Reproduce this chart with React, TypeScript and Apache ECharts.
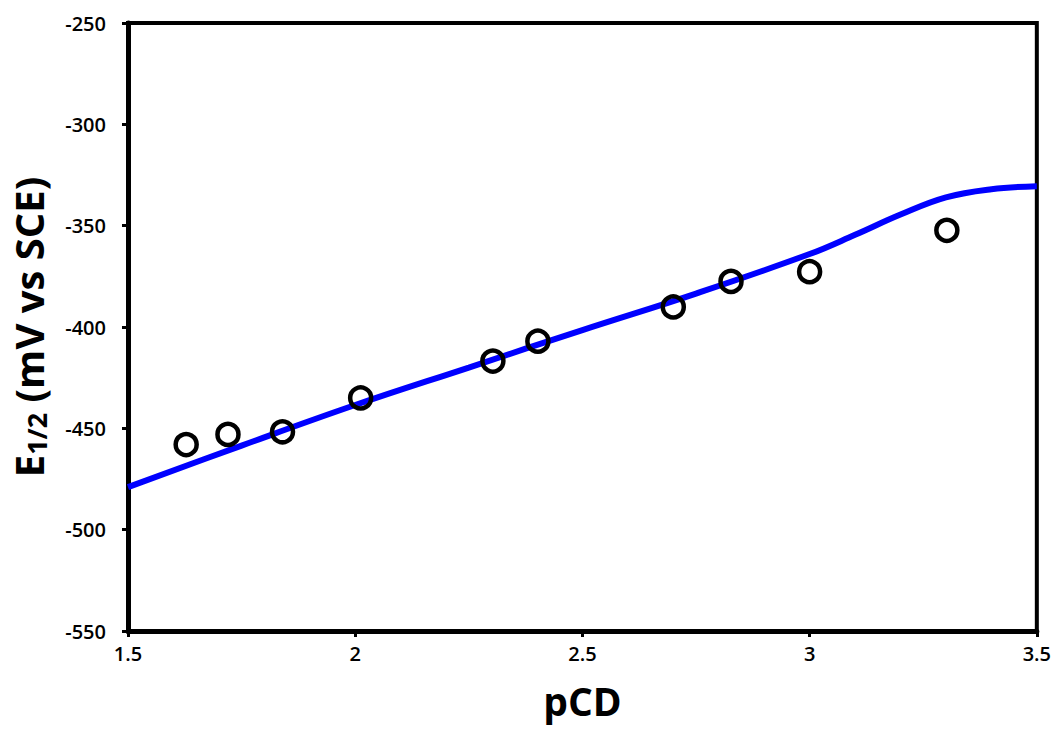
import React, { useEffect, useRef } from "react";
import * as echarts from "echarts";

const pcdPoints = [1.628, 1.72, 1.84, 2.012, 2.303, 2.402, 2.7, 2.827, 3.0, 3.302];
const e12Points = [-458, -453, -451.7, -435, -416.8, -407, -390.1, -377.5, -372.7, -352.3];

const fitX = [1.5, 1.75, 2.0, 2.25, 2.5, 2.75, 3.0, 3.1, 3.2, 3.3, 3.4, 3.5];
const fitY = [-479, -458.5, -438.5, -420, -401.5, -383.5, -364, -354.5, -344.5, -336, -332, -330.5];

const xTicks = { min: 1.5, max: 3.5, interval: 0.5 };
const yTicks = { min: -550, max: -250, interval: 50 };

export default function App() {
  const ref = useRef<HTMLDivElement>(null);
  useEffect(() => {
    document.body.style.margin = "0";
    if (!ref.current) return;
    const chart = echarts.init(ref.current, null, { renderer: "svg" });
    const font = "Open Sans";
    chart.setOption({
      animation: false,
      backgroundColor: "#ffffff",
      grid: {
        left: 128,
        right: 16,
        top: 23,
        bottom: 103,
        show: true,
        borderColor: "#000",
        borderWidth: 4,
        backgroundColor: "transparent",
      },
      xAxis: {
        type: "value",
        min: xTicks.min,
        max: xTicks.max,
        interval: xTicks.interval,
        name: "pCD",
        nameLocation: "middle",
        nameGap: 50,
        nameTextStyle: { fontFamily: font, fontSize: 39, fontWeight: "bold", color: "#000" },
        axisLine: { show: true, onZero: false, lineStyle: { color: "#000", width: 5 } },
        axisTick: { show: true, inside: false, length: 6, lineStyle: { color: "#000", width: 3 } },
        axisLabel: { margin: 12, fontFamily: font, fontSize: 20, fontWeight: 600, color: "#000" },
        splitLine: { show: false },
      },
      yAxis: {
        type: "value",
        min: yTicks.min,
        max: yTicks.max,
        interval: yTicks.interval,
        name: "E{sub|1/2} (mV vs SCE)",
        nameLocation: "middle",
        nameGap: 78,
        nameTextStyle: {
          fontFamily: font,
          fontSize: 40,
          fontWeight: "bold",
          color: "#000",
          rich: {
            sub: {
              fontFamily: font,
              fontSize: 27,
              fontWeight: "bold",
              color: "#000",
              verticalAlign: "bottom",
              padding: [16, 0, 0, 0],
            },
          },
        },
        axisLine: { show: true, onZero: false, lineStyle: { color: "#000", width: 5 } },
        axisTick: { show: true, inside: false, length: 6, lineStyle: { color: "#000", width: 3 } },
        axisLabel: { margin: 22, fontFamily: font, fontSize: 20, fontWeight: 600, color: "#000" },
        splitLine: { show: false },
      },
      series: [
        {
          type: "line",
          data: fitX.map((x, i) => [x, fitY[i]]),
          smooth: 0.4,
          showSymbol: false,
          symbol: "none",
          lineStyle: { color: "#0000ff", width: 6 },
          z: 2,
        },
        {
          type: "scatter",
          data: pcdPoints.map((x, i) => [x, e12Points[i]]),
          symbol: "circle",
          symbolSize: 21,
          itemStyle: { color: "rgba(0,0,0,0)", borderColor: "#000", borderWidth: 4.5, opacity: 1 },
          z: 3,
        },
      ],
    });
    return () => chart.dispose();
  }, []);
  return <div ref={ref} style={{ width: 1054, height: 734 }} />;
}
